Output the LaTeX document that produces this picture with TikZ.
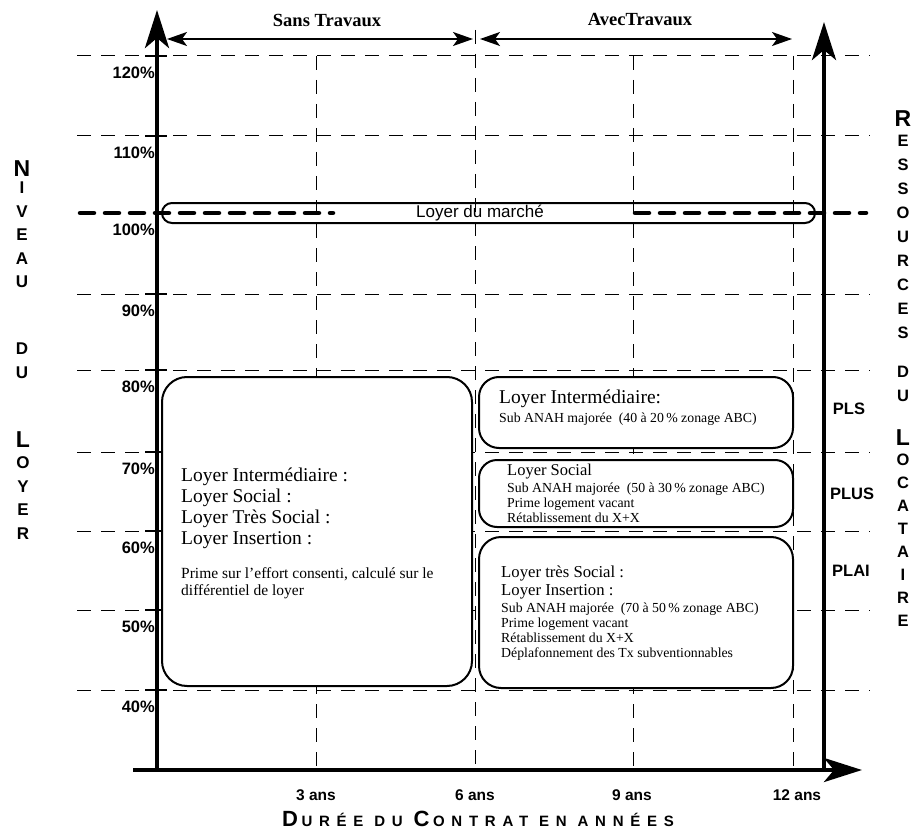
\documentclass[tikz,border=0pt]{standalone}
\usepackage{fontspec}
\setmainfont{Liberation Serif}
\setsansfont{Liberation Sans}
\newfontfamily\espacee[LetterSpace=45]{Liberation Sans}
\usepackage{tikz}
\usetikzlibrary{arrows.meta, positioning, calc}

\tikzset{
  grille/.style={line width=1pt, dash pattern=on 14pt off 10pt},
  marche/.style={line width=4.5pt, line cap=round, dash pattern=on 14pt off 11pt},
  axe/.style={line width=4.5pt, -{Stealth[length=38pt, width=24pt, inset=10pt]}},
  graduation/.style={line width=2.5pt},
  duree/.style={line width=1.5pt, {Stealth[length=20pt, width=14pt, inset=5pt]}-{Stealth[length=20pt, width=14pt, inset=5pt]}},
  boite/.style={draw, line width=2pt, fill=white},
  pct/.style={font=\sffamily\bfseries\fontsize{16.5}{16.5}\selectfont, anchor=east, inner sep=0pt},
  an/.style={font=\sffamily\bfseries\fontsize{15.5}{15.5}\selectfont, inner sep=0pt},
  plafond/.style={font=\sffamily\bfseries\fontsize{16.5}{16.5}\selectfont, inner sep=0pt},
  colonne/.style={font=\sffamily\bfseries\fontsize{17}{23.5}\selectfont, align=center, anchor=north, inner sep=0pt},
  texte/.style={align=left, anchor=north west, inner sep=0pt},
  travaux/.style={font=\bfseries\fontsize{18.5}{18.5}\selectfont, inner sep=0pt},
}
\newcommand{\grande}[1]{{\fontsize{23}{23}\selectfont #1}}
\newcommand{\initiale}[1]{{\fontsize{22}{22}\selectfont #1}\kern3.5pt}

\begin{document}
\begin{tikzpicture}[x=1pt, y=-1pt]
  \useasboundingbox (0,0) rectangle (916,832);

  % grille
  \foreach \p/\yy in {120/56, 110/136, 90/294, 80/370, 70/452, 60/531, 50/610, 40/690} {
    \draw[grille] (77,\yy) -- (870,\yy);
    \draw[graduation] (145,\yy) -- (167,\yy);
    \node[pct] (pct\p) at (155,\yy+17) {\p\%};
  }
  \node[pct] (pct100) at (155,230) {100\%};
  \foreach \xx/\ytop in {316/56, 475/30, 633/56, 793/56}
    \draw[grille] (\xx,\ytop) -- (\xx,770);

  % axes
  \coordinate (origine) at (157,770);
  \draw[axe] (origine) -- (157,10) coordinate (hautG);
  \draw[axe] (133,770) -- (862,770) coordinate (droite);
  \draw[axe] (824,770) -- (824,22) coordinate (hautD);

  % durees
  \coordinate (st1) at (167,39);
  \coordinate (st2) at (473,39);
  \coordinate (at1) at (480,39);
  \coordinate (at2) at (792,39);
  \draw[duree] (st1) -- (st2);
  \draw[duree] (at1) -- (at2);
  \node[travaux] (sans) at (327,20) {Sans Travaux};
  \node[travaux] (avec) at (640,20) {AvecTravaux};

  % loyer du marche
  \draw[line width=2pt, rounded corners=10pt] (162,203) rectangle (815,223);
  \draw[marche] (80,213) -- (333,213);
  \draw[marche] (635,213) -- (866,213);
  \node[font=\sffamily\fontsize{17}{17}\selectfont, inner sep=0pt] (marche) at (480,213) {Loyer du march\'e};

  % boites
  \draw[boite, rounded corners=25pt] (162,377) rectangle (472,686);
  \draw[boite, rounded corners=20pt] (479,377) rectangle (793,448);
  \draw[boite, rounded corners=18pt] (479,460) rectangle (793,527);
  \draw[boite, rounded corners=22pt] (479,537) rectangle (793,688);

  \node[texte, font=\fontsize{19.5}{21}\selectfont] (sansTxt) at (181,468)
    {Loyer Interm\'ediaire :\\Loyer Social :\\Loyer Tr\`es Social :\\Loyer Insertion :};
  \node[texte, font=\fontsize{15.5}{17.5}\selectfont] (prime) at (181,567)
    {Prime sur l'effort consenti, calcul\'e sur le\\diff\'erentiel de loyer};

  \node[texte, font=\fontsize{13.8}{17}\selectfont] (inter) at (499,390)
    {{\fontsize{19.5}{19.5}\selectfont Loyer Interm\'ediaire:}\\[2pt]Sub ANAH major\'ee \ (40 \`a 20\,\% zonage ABC)};
  \node[texte, font=\fontsize{13.8}{15}\selectfont] (social) at (507,464)
    {{\fontsize{16.5}{16.5}\selectfont Loyer Social}\\[2pt]Sub ANAH major\'ee \ (50 \`a 30\,\% zonage ABC)\\Prime logement vacant\\R\'etablissement du X+X};
  \node[texte, font=\fontsize{13.8}{15}\selectfont] (tres) at (501,566)
    {{\fontsize{16.7}{18}\selectfont Loyer tr\`es Social :}\\[3pt]{\fontsize{16.7}{18}\selectfont Loyer Insertion :}\\[2pt]Sub ANAH major\'ee \ (70 \`a 50\,\% zonage ABC)\\Prime logement vacant\\R\'etablissement du X+X\\D\'eplafonnement des Tx subventionnables};

  % plafonds de ressources
  \node[plafond] (pls) at (849,409) {PLS};
  \node[plafond] (plus) at (852,494) {PLUS};
  \node[plafond] (plai) at (851,571) {PLAI};

  % echelle des annees
  \node[an] (a3) at (316,795) {3 ans};
  \node[an] (a6) at (475,795) {6 ans};
  \node[an] (a9) at (632,795) {9 ans};
  \node[an] (a12) at (797,795) {12 ans};
  \node[font=\espacee\bfseries\fontsize{15}{15}\selectfont, inner sep=0pt, anchor=base] (titreX) at (478,826)
    {\initiale{D}UR\'EE DU \initiale{C}ONTRAT EN ANN\'EES};

  % colonnes de gauche et de droite
  \node[colonne] (niveau) at (22,160) {\grande{N}\\[-6pt]I\\V\\E\\A\\U};
  \node[colonne] (duG) at (22,343) {D\\U};
  \node[colonne] (loyer) at (23,431) {\grande{L}\\[-2pt]O\\Y\\E\\R};
  \node[colonne, font=\sffamily\bfseries\fontsize{16.5}{24}\selectfont] (ressources) at (903,110) {\grande{R}\\[-4pt]E\\S\\S\\O\\U\\R\\C\\E\\S};
  \node[colonne, font=\sffamily\bfseries\fontsize{16.5}{24}\selectfont] (duD) at (903,366) {D\\U};
  \node[colonne, font=\sffamily\bfseries\fontsize{16.5}{23}\selectfont] (locataire) at (903,429) {\grande{L}\\[-3pt]O\\C\\A\\T\\A\\I\\R\\E};
\end{tikzpicture}
\end{document}
